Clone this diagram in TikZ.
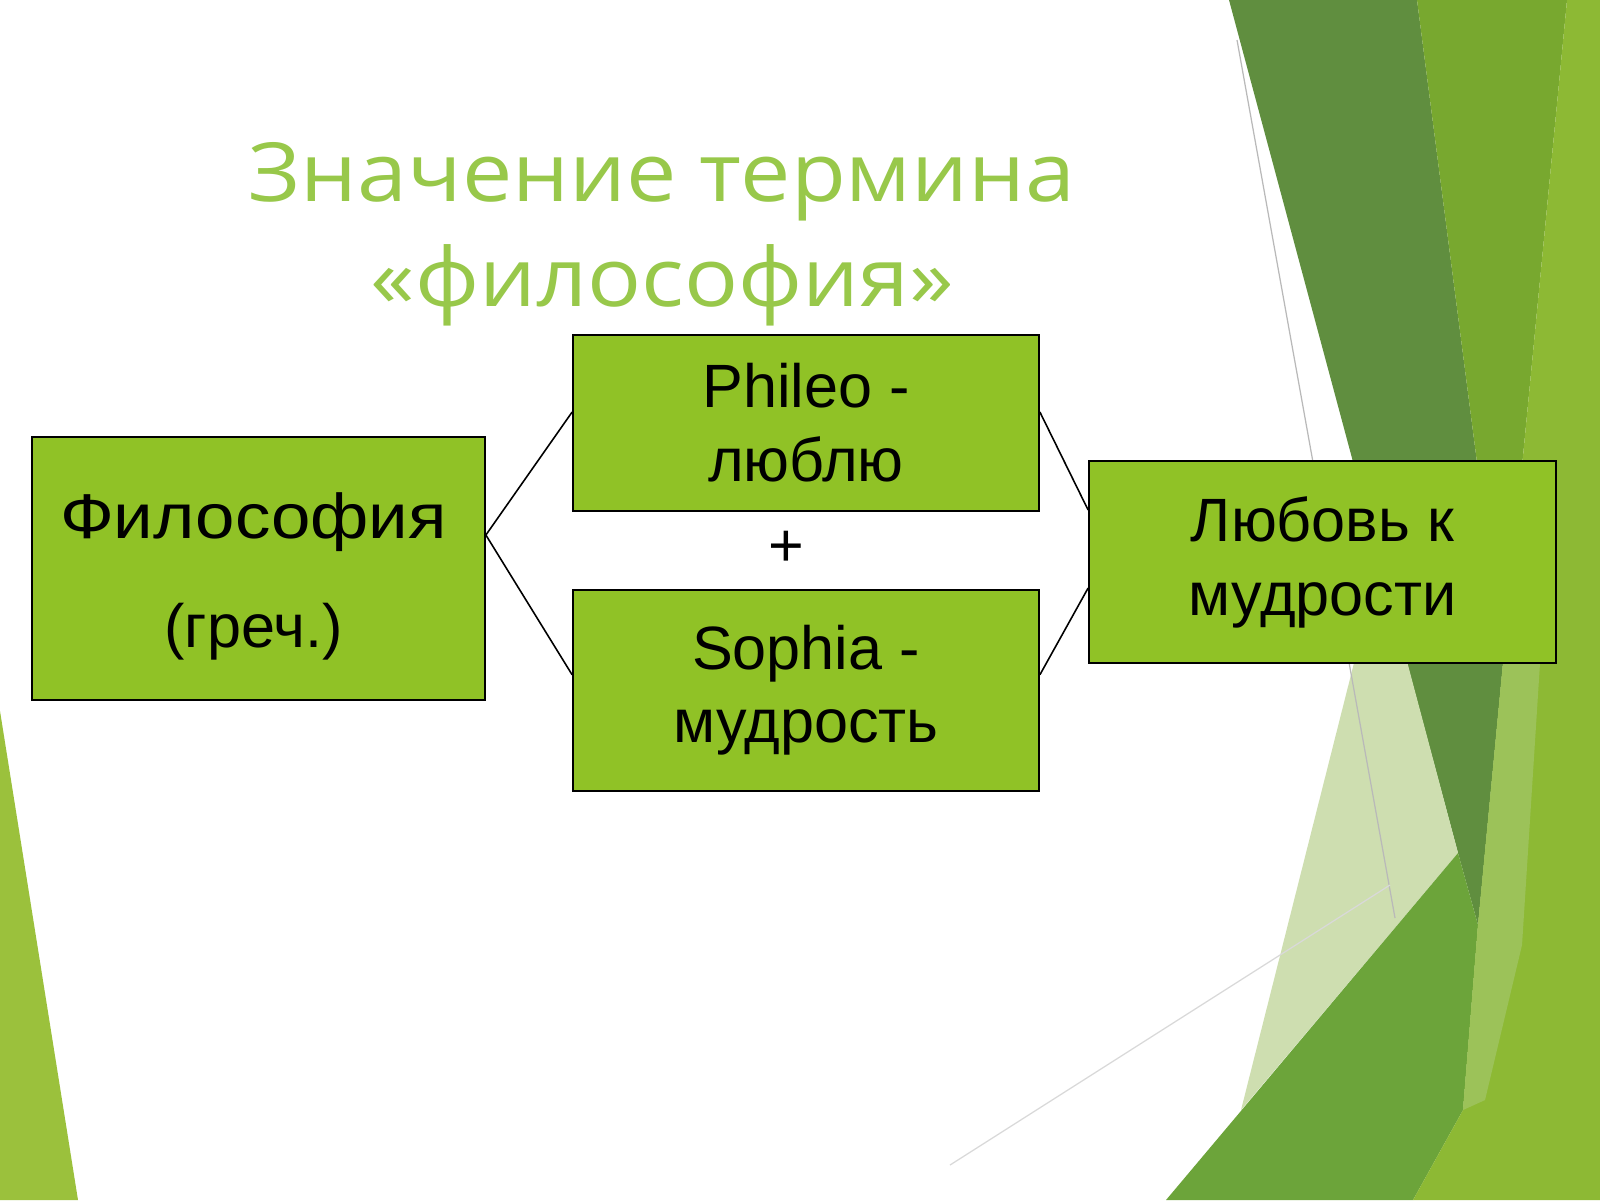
\documentclass[tikz,border=0pt]{standalone}
\usepackage{fontspec}
\setmainfont{Liberation Sans}
\newfontfamily\titlefont[FakeStretch=1.1]{Open Sans}
\newfontfamily\widefont[FakeStretch=1.12]{Liberation Sans}
\usetikzlibrary{positioning}
\definecolor{boxgreen}{HTML}{90C226}
\definecolor{titlegreen}{HTML}{98C84A}
\definecolor{darkleaf}{HTML}{608E3F}
\definecolor{midleaf}{HTML}{78A82F}
\definecolor{brightleaf}{HTML}{6CA43A}
\definecolor{limeleaf}{HTML}{8DB934}
\definecolor{paleleaf}{HTML}{CEDEB0}
\definecolor{softleaf}{HTML}{9CC259}
\definecolor{sliver}{HTML}{9BC13C}
\tikzset{
    box/.style={rectangle, draw=black, line width=0.5pt, fill=boxgreen, align=center, inner sep=0pt, font=\fontsize{17.4}{21}\selectfont},
    link/.style={line width=0.45pt},
    heading/.style={align=center, text=titlegreen, font=\titlefont\fontsize{23.2}{29.8}\selectfont},
    hairline/.style={line width=0.35pt}
}
\begin{document}
\begin{tikzpicture}
        \useasboundingbox (0,0) rectangle (16,-12);
        \fill[white] (0,0) rectangle (16,-12);

        % Background facets
        \fill[sliver] (0,-7.11) -- (0.78,-12) -- (0,-12) -- cycle;
        \fill[darkleaf] (12.29,0) -- (14.17,0) -- (15.03,-6.63) -- (14.78,-9.25) -- (14.58,-8.53) -- cycle;
        \fill[midleaf] (14.17,0) -- (15.67,0) -- (15.03,-6.63) -- cycle;
        \fill[paleleaf] (13.80,-5.60) -- (14.58,-8.53) -- (12.41,-11.10) -- cycle;
        \fill[brightleaf] (14.58,-8.53) -- (14.78,-9.25) -- (14.63,-11.10) -- (14.13,-12) -- (11.66,-12) -- cycle;
        \fill[limeleaf] (15.67,0) -- (16,0) -- (16,-12) -- (14.13,-12) -- (14.63,-11.10) -- (14.78,-9.25) -- (15.03,-6.63) -- cycle;
        \fill[softleaf] (15.03,-6.63) -- (15.40,-6.63) -- (15.22,-9.45) -- (14.85,-11.00) -- (14.63,-11.10) -- (14.78,-9.25) -- cycle;
        \draw[hairline, color=gray!55] (12.37,-0.40) -- (13.95,-9.18);
        \draw[hairline, color=gray!30] (9.50,-11.65) -- (13.90,-8.85);

        % Title
        \node (Title) [heading] at (6.62,-2.34) {Значение термина\\«философия»};

        % Boxes
        \node (Phil) [box, minimum width=4.53cm, minimum height=2.63cm] at (2.585,-5.685) {};
        \node (PhilText) [align=center, font=\fontsize{17.4}{21}\selectfont] at ([xshift=-0.5mm, yshift=-0.8mm]Phil.center) {{\widefont\fontsize{18}{21}\selectfont Философия}\\[10pt](греч.)};
        \node (Phileo) [box, minimum width=4.66cm, minimum height=1.76cm] at (8.06,-4.23) {Phileo -\\люблю};
        \node (Sophia) [box, minimum width=4.66cm, minimum height=2.01cm, below=0.77cm of Phileo] {Sophia -\\мудрость};
        \node (Plus) [font=\fontsize{17.4}{21}\selectfont, inner sep=0pt] at (7.86,-5.49) {+};
        \node (Love) [box, minimum width=4.67cm, minimum height=2.02cm] at (13.225,-5.62) {Любовь к\\мудрости};

        % Connecting lines
        \draw[link] ([yshift=3.35mm]Phil.east) -- ([yshift=1.1mm]Phileo.west);
        \draw[link] ([yshift=3.35mm]Phil.east) -- ([yshift=1.55mm]Sophia.west);
        \draw[link] ([yshift=1.1mm]Phileo.east) -- ([yshift=5.2mm]Love.west);
        \draw[link] ([yshift=1.55mm]Sophia.east) -- ([yshift=-2.6mm]Love.west);

    \end{tikzpicture}
\end{document}
